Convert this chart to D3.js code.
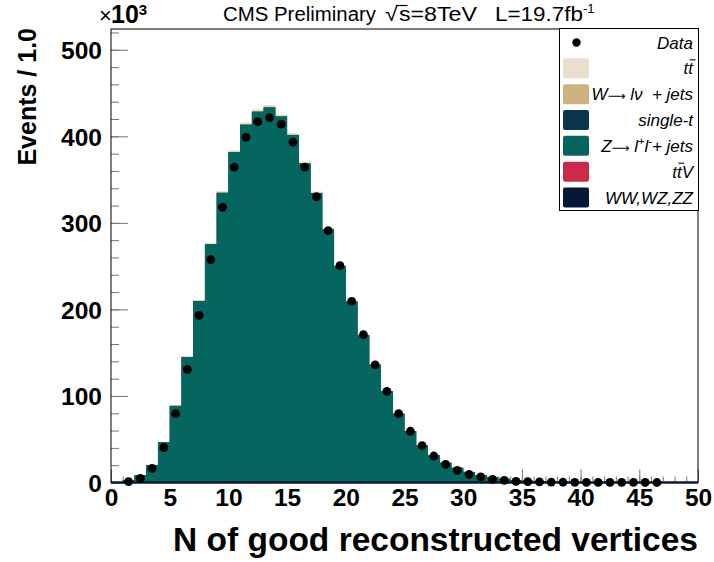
<!DOCTYPE html>
<html>
<head>
<meta charset="utf-8">
<script src="https://cdn.jsdelivr.net/npm/d3@7"></script>
<style>
  html, body { margin: 0; padding: 0; background: #fff; }
  svg { display: block; font-family: "Liberation Sans", Arial, Helvetica, sans-serif; }
  text { white-space: pre; }
</style>
</head>
<body>
<svg id="chart" width="714" height="562"></svg>
<script>
// Number of good reconstructed vertices, 1-vertex bins from 0 to 50 (values in units of 10^3 events)
const binLow = d3.range(0, 50);

// Simulated processes, stacked bottom to top
const mcWWWZZZ = [0, 0.01, 0.02, 0.05, 0.1, 0.2, 0.33, 0.48, 0.62, 0.76, 0.87, 0.95, 0.99, 1.0, 0.98, 0.93, 0.86, 0.77, 0.67, 0.57, 0.47, 0.38, 0.3, 0.23, 0.17, 0.13, 0.09, 0.07, 0.05, 0.03, 0.02, 0.015, 0.01, 0.007, 0.005, 0.003, 0.002, 0.001, 0.001, 0, 0, 0, 0, 0, 0, 0, 0, 0, 0, 0];
const mcTTV    = [0, 0, 0, 0, 0.01, 0.01, 0.01, 0.02, 0.02, 0.03, 0.03, 0.03, 0.03, 0.03, 0.03, 0.03, 0.03, 0.02, 0.02, 0.02, 0.02, 0.01, 0.01, 0.01, 0.01, 0, 0, 0, 0, 0, 0, 0, 0, 0, 0, 0, 0, 0, 0, 0, 0, 0, 0, 0, 0, 0, 0, 0, 0, 0];
const mcZjets  = [0.2, 2.9, 8.5, 20.2, 46.3, 88.3, 144.7, 209.0, 274.4, 333.8, 380.6, 412.3, 427.3, 432.2, 421.8, 400.3, 367.7, 333.5, 291.6, 249.2, 208.5, 169.7, 135.7, 105.1, 79.3, 59.0, 42.7, 31.8, 22.7, 16.9, 11.7, 8.6, 5.95, 4.35, 2.95, 2.0, 1.4, 0.9, 0.6, 0.4, 0.28, 0.19, 0.13, 0.09, 0.06, 0.04, 0.03, 0.02, 0.01, 0.01];
const mcSingleT = [0, 0, 0, 0.01, 0.02, 0.04, 0.06, 0.09, 0.11, 0.13, 0.15, 0.16, 0.17, 0.17, 0.16, 0.15, 0.14, 0.12, 0.1, 0.09, 0.07, 0.05, 0.04, 0.03, 0.02, 0.02, 0.01, 0.01, 0.01, 0, 0, 0, 0, 0, 0, 0, 0, 0, 0, 0, 0, 0, 0, 0, 0, 0, 0, 0, 0, 0];
const mcWjets  = [0, 0.01, 0.02, 0.05, 0.1, 0.2, 0.3, 0.4, 0.5, 0.58, 0.63, 0.66, 0.67, 0.66, 0.63, 0.59, 0.53, 0.47, 0.4, 0.33, 0.27, 0.21, 0.16, 0.12, 0.09, 0.06, 0.04, 0.03, 0.02, 0.01, 0.01, 0, 0, 0, 0, 0, 0, 0, 0, 0, 0, 0, 0, 0, 0, 0, 0, 0, 0, 0];
const mcTTbar  = [0, 0, 0.02, 0.06, 0.15, 0.3, 0.5, 0.8, 1.1, 1.4, 1.7, 1.9, 2.0, 2.0, 1.95, 1.85, 1.7, 1.5, 1.3, 1.1, 0.9, 0.7, 0.55, 0.42, 0.31, 0.23, 0.17, 0.12, 0.08, 0.06, 0.04, 0.03, 0.02, 0.015, 0.01, 0.007, 0.005, 0.003, 0.002, 0.001, 0, 0, 0, 0, 0, 0, 0, 0, 0, 0];

// Observed data per bin (null = empty bin, not drawn)
const dataCounts = [null, 1.0, 4.8, 16.4, 40.2, 79.5, 130.8, 193.2, 257.5, 318.0, 364.5, 398.8, 416.9, 421.5, 414.2, 393.4, 364.5, 330.2, 291.0, 250.5, 209.3, 170.8, 135.8, 105.4, 79.5, 59.2, 42.5, 30.6, 21.0, 14.0, 9.5, 6.4, 3.7, 2.5, 1.4, 1.0, 0.7, 0.45, 0.3, 0.2, 0.13, 0.09, 0.06, 0.04, 0.03, 0.02, 0.01, null, null, null];

const xMajorTicks = [0, 5, 10, 15, 20, 25, 30, 35, 40, 45, 50];
const yMajorTicks = [0, 100, 200, 300, 400, 500];

const processKeys = ["wwwzzz", "ttv", "zjets", "singlet", "wjets", "ttbar"];
const processColors = {
  ttbar: "#e8dfcd",
  wjets: "#cbb27f",
  singlet: "#0b3548",
  zjets: "#05655f",
  ttv: "#cc2a4b",
  wwwzzz: "#041836"
};

const plot = { left: 111, right: 698, top: 29, bottom: 482.5 };

const svg = d3.select("#chart");

const x = d3.scaleLinear().domain([0, 50]).range([plot.left, plot.right]);
const y = d3.scaleLinear().domain([0, 524]).range([plot.bottom, plot.top]);

// ---- axes (tick marks point into the frame) ----
const axisFont = "bold 24.5px 'Liberation Sans', Arial, sans-serif";

const xMinor = svg.append("g")
  .attr("transform", `translate(0,${plot.bottom})`)
  .call(d3.axisBottom(x).tickValues(d3.range(0, 51)).tickSizeInner(-6).tickSizeOuter(0).tickFormat(""));
const xMajor = svg.append("g")
  .attr("transform", `translate(0,${plot.bottom})`)
  .call(d3.axisBottom(x).tickValues(xMajorTicks).tickSizeInner(-13).tickSizeOuter(0).tickPadding(11).tickFormat(d3.format("d")));

const yMinor = svg.append("g")
  .attr("transform", `translate(${plot.left},0)`)
  .call(d3.axisLeft(y).tickValues(d3.range(0, 521, 20)).tickSizeInner(-8).tickSizeOuter(0).tickFormat(""));
const yMajor = svg.append("g")
  .attr("transform", `translate(${plot.left},0)`)
  .call(d3.axisLeft(y).tickValues(yMajorTicks).tickSizeInner(-17).tickSizeOuter(0).tickPadding(9).tickFormat(d3.format("d")));

[xMinor, xMajor, yMinor, yMajor].forEach(g => {
  g.select(".domain").remove();
  g.selectAll(".tick line").attr("stroke", "#777").attr("stroke-width", 1);
});
xMajor.selectAll(".tick text")
  .style("font", axisFont).attr("fill", "#000").attr("dy", "0.5em");
yMajor.selectAll(".tick text")
  .style("font", axisFont).attr("fill", "#000").attr("dy", "0.36em");

// ---- stacked simulation ----
// Each process is painted as the cumulative histogram up to its own top, from the
// highest cumulative down, so lower layers overwrite the ones above them.
const rows = binLow.map((b, i) => ({
  bin: b,
  wwwzzz: mcWWWZZZ[i], ttv: mcTTV[i], zjets: mcZjets[i],
  singlet: mcSingleT[i], wjets: mcWjets[i], ttbar: mcTTbar[i]
}));
const stacked = d3.stack().keys(processKeys)(rows);

const stepArea = d3.area()
  .x(p => x(p.xv))
  .y0(y(0))
  .y1(p => y(p.hi));

svg.append("g").selectAll("path")
  .data(stacked.slice().reverse())
  .join("path")
  .attr("fill", d => processColors[d.key])
  .attr("d", layer => stepArea(layer.flatMap(s => [
    { xv: s.data.bin, hi: s[1] },
    { xv: s.data.bin + 1, hi: s[1] }
  ])));

// ---- frame ----
svg.append("rect")
  .attr("x", plot.left).attr("y", plot.top)
  .attr("width", plot.right - plot.left).attr("height", plot.bottom - plot.top)
  .attr("fill", "none").attr("stroke", "#000").attr("stroke-width", 1);
svg.append("line")
  .attr("x1", plot.left).attr("x2", plot.right)
  .attr("y1", plot.bottom).attr("y2", plot.bottom)
  .attr("stroke", "#0d1a36").attr("stroke-width", 2.5);

// ---- data points ----
const dataPts = binLow.map((b, i) => ({ c: b + 0.5, v: dataCounts[i] })).filter(d => d.v !== null);
svg.append("g").selectAll("circle")
  .data(dataPts)
  .join("circle")
  .attr("cx", d => x(d.c))
  .attr("cy", d => y(d.v))
  .attr("r", 4.4)
  .attr("fill", "#000");

// ---- axis titles ----
svg.append("text")
  .attr("x", plot.right).attr("y", 551)
  .attr("text-anchor", "end")
  .style("font", "bold 33.5px 'Liberation Sans', Arial, sans-serif")
  .text("N of good reconstructed vertices");

svg.append("text")
  .attr("transform", "translate(36,28) rotate(-90)")
  .attr("text-anchor", "end")
  .style("font", "bold 25px 'Liberation Sans', Arial, sans-serif")
  .text("Events / 1.0");

// ×10^3 multiplier
svg.append("text").attr("x", 99).attr("y", 23)
  .style("font", "22px 'Liberation Sans', Arial, sans-serif")
  .text("×");
const mult = svg.append("text").attr("x", 111).attr("y", 23)
  .style("font", "bold 25px 'Liberation Sans', Arial, sans-serif");
mult.append("tspan").text("10");
mult.append("tspan").attr("dy", -8).style("font-size", "15px").text("3");

// ---- header ----
const headerFont = "20px 'Liberation Sans', Arial, sans-serif";
svg.append("text").attr("x", 223).attr("y", 21).style("font", headerFont)
  .attr("textLength", 153).attr("lengthAdjust", "spacingAndGlyphs")
  .text("CMS Preliminary");
const sqrtText = svg.append("text").attr("x", 385).attr("y", 21).style("font", headerFont);
sqrtText.append("tspan").text("√");
sqrtText.append("tspan").attr("dx", 1).text("s=8TeV");
{
  const node = sqrtText.node();
  const p0 = node.getStartPositionOfChar(1);
  const p1 = node.getEndPositionOfChar(1);
  svg.append("line")
    .attr("x1", p0.x - 1).attr("x2", p1.x + 0.5)
    .attr("y1", 5.5).attr("y2", 5.5)
    .attr("stroke", "#000").attr("stroke-width", 1.2);
  sqrtText.attr("textLength", 92).attr("lengthAdjust", "spacingAndGlyphs");
}
const lumi = svg.append("text").attr("x", 495).attr("y", 21).style("font", headerFont);
lumi.append("tspan").attr("textLength", 88).attr("lengthAdjust", "spacingAndGlyphs").text("L=19.7fb");
lumi.append("tspan").attr("dy", -8).style("font-size", "13px").text("-1");

// ---- legend ----
const legend = svg.append("g");
legend.append("rect")
  .attr("x", 559.5).attr("y", 28.5).attr("width", 139).attr("height", 182)
  .attr("fill", "#fff").attr("stroke", "#000").attr("stroke-width", 1);

const legendEntries = ["data", "ttbar", "wjets", "singlet", "zjets", "ttv", "wwwzzz"];
const legendY = d3.scalePoint().domain(legendEntries).range([42.5, 197.5]);
const legendFont = "italic 17px 'Liberation Sans', Arial, sans-serif";

function arrow(t) {
  t.append("tspan")
    .style("font-style", "normal").style("font-family", "'DejaVu Sans'").style("font-size", "12.5px")
    .text("⟶");
}

legendEntries.forEach(key => {
  const cy = legendY(key);
  if (key === "data") {
    legend.append("circle").attr("cx", 576.5).attr("cy", cy).attr("r", 4.2).attr("fill", "#000");
  } else {
    legend.append("rect")
      .attr("x", 563).attr("y", cy - 10).attr("width", 26).attr("height", 20)
      .attr("rx", 2).attr("fill", processColors[key]);
  }
  const t = legend.append("text")
    .attr("x", 693).attr("y", cy + 6)
    .attr("text-anchor", "end")
    .style("font", legendFont);
  let barIndex = -1;
  if (key === "data") t.text("Data");
  else if (key === "ttbar") { t.text("tt"); barIndex = 1; }
  else if (key === "wjets") {
    t.append("tspan").text("W");
    arrow(t);
    t.append("tspan").text(" lν  + jets");
  }
  else if (key === "singlet") t.text("single-t");
  else if (key === "zjets") {
    t.append("tspan").text("Z");
    arrow(t);
    t.append("tspan").text(" l");
    t.append("tspan").attr("dy", -7).style("font-size", "11px").text("+");
    t.append("tspan").attr("dy", 7).text("l");
    t.append("tspan").attr("dy", -7).style("font-size", "11px").text("-");
    t.append("tspan").attr("dy", 7).text("+ jets");
  }
  else if (key === "ttv") { t.text("ttV"); barIndex = 1; }
  else if (key === "wwwzzz") t.text("WW,WZ,ZZ");

  // overbar marking the anti-top
  if (barIndex >= 0) {
    const node = t.node();
    const a = node.getStartPositionOfChar(barIndex), b = node.getEndPositionOfChar(barIndex);
    legend.append("line")
      .attr("x1", a.x + 1.5).attr("x2", b.x + 2.5)
      .attr("y1", cy - 8.5).attr("y2", cy - 8.5)
      .attr("stroke", "#000").attr("stroke-width", 1.1);
  }
});
</script>
</body>
</html>
